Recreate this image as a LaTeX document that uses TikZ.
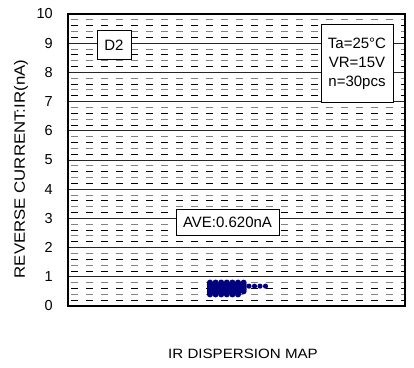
\documentclass[tikz,border=0pt]{standalone}
\usepackage{fontspec}
\setmainfont{Liberation Sans}
\definecolor{dotblue}{RGB}{0,0,128}
\definecolor{gridgray}{RGB}{130,130,130}
\tikzset{
  labelbox/.style={draw=black,fill=white,line width=1pt,inner sep=2pt,font=\fontsize{15}{19}\selectfont},
  griddash/.style={line width=0.9pt,dash pattern=on 7pt off 8pt,dash phase=-3pt},
  ticklabel/.style={anchor=east,font=\fontsize{14.5}{14.5}\selectfont,inner sep=1pt}
}
\begin{document}
\begin{tikzpicture}[x=1pt,y=1pt,cap=butt]
            \useasboundingbox (0,0) rectangle (414,367);
            % plot area: x from 68 to 405, value v at y = 61 + 29.2 v

            % draw the horizontal grid
            \foreach \k in {0,...,9} {
              \pgfmathsetmacro{\yk}{61+29.2*\k}
              \draw[black!85, line width=0.9pt] (68,\yk) -- (405,\yk);
              \draw[griddash, black] (68,\yk+5.84) -- (405,\yk+5.84);
              \draw[griddash, gridgray] (68,\yk+11.68) -- (405,\yk+11.68);
              \draw[griddash, black] (68,\yk+17.52) -- (405,\yk+17.52);
              \draw[griddash, gridgray] (68,\yk+23.36) -- (405,\yk+23.36);
            }

            % draw the frame
            \draw[line width=2pt] (68,61) rectangle (405,353);

            % tick labels
            \foreach \k in {0,...,10}
              \node[ticklabel] (tick\k) at (54,61+29.2*\k) {\k};

            % the dispersion dots
            \foreach \c in {0,...,5}
              \foreach \v in {0.4,0.45,...,0.81}
                \fill[dotblue] (210+5.6*\c,61+29.2*\v) circle(3.1pt);
            \foreach \v in {0.5,0.55,...,0.81}
              \fill[dotblue] (243.6,61+29.2*\v) circle(3pt);
            \foreach \c in {0,...,3}
              \fill[dotblue] (249+5.5*\c,61+29.2*0.68) circle(2.6pt);

            % text boxes
            \node[labelbox, minimum width=34pt, minimum height=29pt] (d2box) at (114,321.5) {D2};
            \node[labelbox, align=center, minimum width=72pt, minimum height=78pt] (condbox) at (357,303)
              {Ta=25°C\\VR=15V\\n=30pcs};
            \node[labelbox, minimum width=103pt, minimum height=26pt] (avebox) at (227.5,145) {AVE:0.620nA};

            % axis titles
            \node[rotate=90, xscale=1.12, font=\fontsize{15}{15}\selectfont] (ytitle) at (21,198) {REVERSE CURRENT:IR(nA)};
            \node[xscale=1.12, font=\fontsize{13.5}{13.5}\selectfont] (xtitle) at (243,13) {IR DISPERSION MAP};
        \end{tikzpicture}
\end{document}
